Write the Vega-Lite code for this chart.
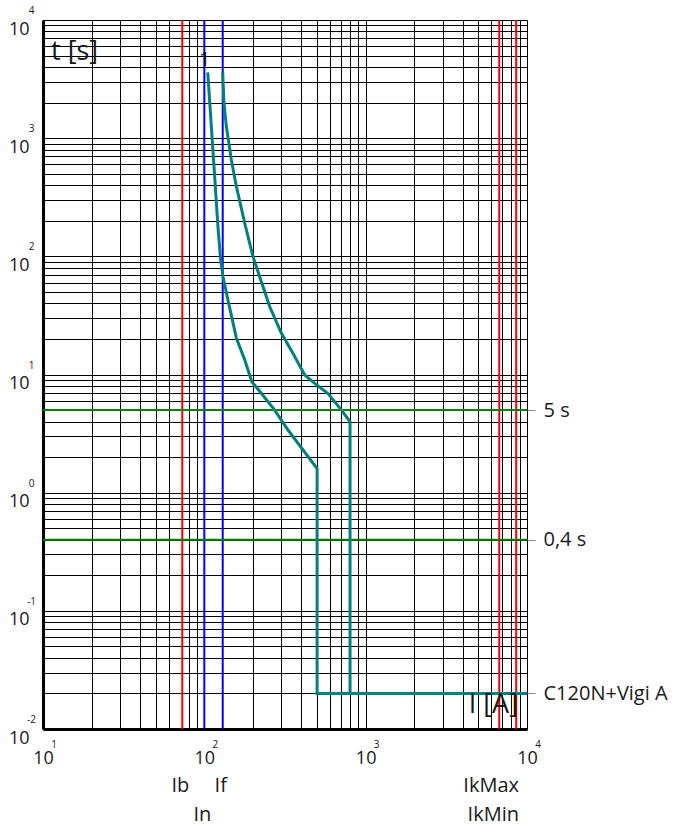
{
  "$schema": "https://vega.github.io/schema/vega-lite/v6.json",
  "width": 484,
  "height": 709,
  "autosize": {"type": "none"},
  "padding": {"left": 43, "top": 20, "right": 157, "bottom": 97},
  "background": "white",
  "config": {
    "view": {"stroke": null},
    "font": "Open Sans",
    "text": {"font": "Open Sans", "color": "#1a1a1a"},
    "axis": {"labelFont": "Open Sans", "labelColor": "#1a1a1a"}
  },
  "datasets": {
    "currents": [
      {"name": "Ib", "I": 73, "kind": "red"},
      {"name": "In", "I": 100, "kind": "blue"},
      {"name": "If", "I": 130, "kind": "blue"},
      {"name": "IkMin", "I": 6730, "kind": "red"},
      {"name": "IkMax", "I": 8570, "kind": "red"}
    ],
    "curves": [
      {"curve": "min", "o": 1, "I": 105, "t": 3600},
      {"curve": "min", "o": 2, "I": 110.5, "t": 1259},
      {"curve": "min", "o": 3, "I": 115.9, "t": 474},
      {"curve": "min", "o": 4, "I": 121.4, "t": 179},
      {"curve": "min", "o": 5, "I": 126.2, "t": 93.4},
      {"curve": "min", "o": 6, "I": 130.5, "t": 67.5},
      {"curve": "min", "o": 7, "I": 140, "t": 42.8},
      {"curve": "min", "o": 8, "I": 158, "t": 20.3},
      {"curve": "min", "o": 9, "I": 178, "t": 13.3},
      {"curve": "min", "o": 10, "I": 197, "t": 8.7},
      {"curve": "min", "o": 11, "I": 226, "t": 6.9},
      {"curve": "min", "o": 12, "I": 273, "t": 5.0},
      {"curve": "min", "o": 13, "I": 330, "t": 3.39},
      {"curve": "min", "o": 14, "I": 500, "t": 1.6},
      {"curve": "min", "o": 15, "I": 500, "t": 0.02},
      {"curve": "min", "o": 16, "I": 10000, "t": 0.02},
      {"curve": "max", "o": 1, "I": 130, "t": 3600},
      {"curve": "max", "o": 2, "I": 132.3, "t": 1990},
      {"curve": "max", "o": 3, "I": 136.9, "t": 1260},
      {"curve": "max", "o": 4, "I": 147, "t": 657},
      {"curve": "max", "o": 5, "I": 158, "t": 390},
      {"curve": "max", "o": 6, "I": 178, "t": 191},
      {"curve": "max", "o": 7, "I": 200, "t": 100},
      {"curve": "max", "o": 8, "I": 220, "t": 67.5},
      {"curve": "max", "o": 9, "I": 254, "t": 37.6},
      {"curve": "max", "o": 10, "I": 300, "t": 22.4},
      {"curve": "max", "o": 11, "I": 354, "t": 15.1},
      {"curve": "max", "o": 12, "I": 419, "t": 9.9},
      {"curve": "max", "o": 13, "I": 483, "t": 8.4},
      {"curve": "max", "o": 14, "I": 584, "t": 6.9},
      {"curve": "max", "o": 15, "I": 708, "t": 5.0},
      {"curve": "max", "o": 16, "I": 800, "t": 4.0},
      {"curve": "max", "o": 17, "I": 800, "t": 0.02}
    ],
    "limits": [
      {"t": 5, "label": "5 s"},
      {"t": 0.4, "label": "0,4 s"}
    ],
    "yexp": [
      {"e": "-2", "t": 0.01}, {"e": "-1", "t": 0.1}, {"e": "0", "t": 1},
      {"e": "1", "t": 10}, {"e": "2", "t": 100}, {"e": "3", "t": 1000}, {"e": "4", "t": 10000}
    ],
    "xexp": [
      {"e": "1", "I": 10}, {"e": "2", "I": 100}, {"e": "3", "I": 1000}, {"e": "4", "I": 10000}
    ]
  },
  "layer": [
    {
      "data": {"name": "currents"},
      "mark": {"type": "rule", "strokeWidth": 2},
      "encoding": {
        "x": {
          "field": "I", "type": "quantitative",
          "scale": {"type": "log", "domain": [10, 10000], "nice": false},
          "axis": {
            "values": [10, 20, 30, 40, 50, 60, 80, 90, 100, 200, 300, 400, 500, 600, 700, 800, 900, 1000, 2000, 3000, 4000, 5000, 6000, 7000, 8000, 9000, 10000],
            "grid": true, "gridColor": "#000", "gridWidth": 1, "gridOpacity": 1,
            "ticks": false, "tickSize": 0,
            "domain": true, "domainColor": "#000", "domainWidth": 3,
            "labelExpr": "abs(log(datum.value)/LN10 - round(log(datum.value)/LN10)) < 0.0001 ? '10' : ''",
            "labelFontSize": 18, "labelPadding": 20, "labelOverlap": false, "labelFlush": false, "labelBound": false,
            "title": null
          }
        },
        "color": {"field": "kind", "type": "nominal", "scale": {"domain": ["red", "blue"], "range": ["#ff0000", "#0000ff"]}, "legend": null}
      }
    },
    {
      "data": {"name": "limits"},
      "mark": {"type": "rule", "color": "#008000", "strokeWidth": 2},
      "encoding": {
        "y": {
          "field": "t", "type": "quantitative",
          "scale": {"type": "log", "domain": [0.01, 10000], "nice": false},
          "axis": {
            "orient": "right",
            "values": [0.02, 0.4, 5],
            "labelExpr": "datum.value == 5 ? '5 s' : datum.value == 0.4 ? '0,4 s' : 'C120N+Vigi A'",
            "grid": false, "domain": false,
            "ticks": true, "tickSize": 8, "tickWidth": 1,
            "labelPadding": 8, "labelFontSize": 20, "labelBaseline": "middle",
            "labelOverlap": false, "labelFlush": false, "labelBound": false,
            "title": null,
            "encode": {"ticks": {"update": {"stroke": {"signal": "datum.value < 0.1 ? '#008080' : '#008000'"}}}}
          }
        }
      }
    },
    {
      "data": {"name": "curves"},
      "mark": {"type": "line", "color": "#008080", "strokeWidth": 3, "strokeJoin": "miter"},
      "encoding": {
        "x": {"field": "I", "type": "quantitative", "scale": {"type": "log", "domain": [10, 10000], "nice": false}, "axis": null},
        "y": {
          "field": "t", "type": "quantitative",
          "scale": {"type": "log", "domain": [0.01, 10000], "nice": false},
          "axis": {
            "values": [0.01, 0.02, 0.03, 0.04, 0.05, 0.06, 0.07, 0.08, 0.09, 0.1, 0.2, 0.3, 0.4, 0.5, 0.6, 0.7, 0.8, 0.9, 1, 2, 3, 4, 5, 6, 7, 8, 9, 10, 20, 30, 40, 50, 60, 70, 80, 90, 100, 200, 300, 400, 500, 600, 700, 800, 900, 1000, 2000, 3000, 4000, 5000, 6000, 7000, 8000, 9000, 10000],
            "grid": true, "gridColor": "#000", "gridWidth": 1, "gridOpacity": 1,
            "ticks": false, "tickSize": 0,
            "domain": true, "domainColor": "#000", "domainWidth": 3,
            "labelExpr": "abs(log(datum.value)/LN10 - round(log(datum.value)/LN10)) < 0.0001 ? '10' : ''",
            "labelFontSize": 18, "labelPadding": 14, "labelBaseline": "top",
            "labelOverlap": false, "labelFlush": false, "labelBound": false,
            "title": null
          }
        },
        "detail": {"field": "curve"},
        "order": {"field": "o", "type": "quantitative"}
      }
    },
    {
      "data": {"values": [{"label": "1", "I": 105, "t": 3600}]},
      "mark": {"type": "text", "fontSize": 20, "align": "center", "baseline": "alphabetic", "dx": -3, "dy": -6},
      "encoding": {
        "x": {"field": "I", "type": "quantitative", "scale": {"type": "log", "domain": [10, 10000], "nice": false}, "axis": null},
        "y": {"field": "t", "type": "quantitative", "scale": {"type": "log", "domain": [0.01, 10000], "nice": false}, "axis": null},
        "text": {"field": "label"}
      }
    },
    {
      "data": {"values": [{"label": "t [s]"}]},
      "mark": {"type": "text", "fontSize": 27, "align": "left", "baseline": "alphabetic", "dx": 8, "dy": 40},
      "encoding": {
        "x": {"datum": 10, "type": "quantitative", "scale": {"type": "log", "domain": [10, 10000], "nice": false}, "axis": null},
        "y": {"datum": 10000, "type": "quantitative", "scale": {"type": "log", "domain": [0.01, 10000], "nice": false}, "axis": null},
        "text": {"field": "label"}
      }
    },
    {
      "data": {"values": [{"label": "I [A]"}]},
      "mark": {"type": "text", "fontSize": 27, "align": "right", "baseline": "alphabetic", "dx": -9, "dy": -16},
      "encoding": {
        "x": {"datum": 10000, "type": "quantitative", "scale": {"type": "log", "domain": [10, 10000], "nice": false}, "axis": null},
        "y": {"datum": 0.01, "type": "quantitative", "scale": {"type": "log", "domain": [0.01, 10000], "nice": false}, "axis": null},
        "text": {"field": "label"}
      }
    },
    {
      "data": {"name": "yexp"},
      "mark": {"type": "text", "fontSize": 10, "align": "center", "baseline": "middle", "dx": -11.5, "dy": -9},
      "encoding": {
        "x": {"datum": 10, "type": "quantitative", "scale": {"type": "log", "domain": [10, 10000], "nice": false}, "axis": null},
        "y": {"field": "t", "type": "quantitative", "scale": {"type": "log", "domain": [0.01, 10000], "nice": false}, "axis": null},
        "text": {"field": "e"}
      }
    },
    {
      "data": {"name": "xexp"},
      "mark": {"type": "text", "fontSize": 10, "align": "center", "baseline": "middle", "dx": 11, "dy": 15.5},
      "encoding": {
        "x": {"field": "I", "type": "quantitative", "scale": {"type": "log", "domain": [10, 10000], "nice": false}, "axis": null},
        "y": {"datum": 0.01, "type": "quantitative", "scale": {"type": "log", "domain": [0.01, 10000], "nice": false}, "axis": null},
        "text": {"field": "e"}
      }
    },
    {
      "data": {"name": "currents"},
      "transform": [{"filter": "datum.name == 'Ib' || datum.name == 'If'"}],
      "mark": {"type": "text", "fontSize": 20, "align": "center", "baseline": "middle", "dx": -2, "dy": 57},
      "encoding": {
        "x": {"field": "I", "type": "quantitative", "scale": {"type": "log", "domain": [10, 10000], "nice": false}, "axis": null},
        "y": {"datum": 0.01, "type": "quantitative", "scale": {"type": "log", "domain": [0.01, 10000], "nice": false}, "axis": null},
        "text": {"field": "name"}
      }
    },
    {
      "data": {"name": "currents"},
      "transform": [{"filter": "datum.name == 'In'"}],
      "mark": {"type": "text", "fontSize": 20, "align": "center", "baseline": "middle", "dx": -2, "dy": 86},
      "encoding": {
        "x": {"field": "I", "type": "quantitative", "scale": {"type": "log", "domain": [10, 10000], "nice": false}, "axis": null},
        "y": {"datum": 0.01, "type": "quantitative", "scale": {"type": "log", "domain": [0.01, 10000], "nice": false}, "axis": null},
        "text": {"field": "name"}
      }
    },
    {
      "data": {"name": "currents"},
      "transform": [{"filter": "datum.name == 'IkMax'"}],
      "mark": {"type": "text", "fontSize": 20, "align": "right", "baseline": "middle", "dx": -8, "dy": 57},
      "encoding": {
        "x": {"datum": 10000, "type": "quantitative", "scale": {"type": "log", "domain": [10, 10000], "nice": false}, "axis": null},
        "y": {"datum": 0.01, "type": "quantitative", "scale": {"type": "log", "domain": [0.01, 10000], "nice": false}, "axis": null},
        "text": {"field": "name"}
      }
    },
    {
      "data": {"name": "currents"},
      "transform": [{"filter": "datum.name == 'IkMin'"}],
      "mark": {"type": "text", "fontSize": 20, "align": "right", "baseline": "middle", "dx": -8, "dy": 86},
      "encoding": {
        "x": {"datum": 10000, "type": "quantitative", "scale": {"type": "log", "domain": [10, 10000], "nice": false}, "axis": null},
        "y": {"datum": 0.01, "type": "quantitative", "scale": {"type": "log", "domain": [0.01, 10000], "nice": false}, "axis": null},
        "text": {"field": "name"}
      }
    }
  ],
  "resolve": {"axis": {"x": "independent", "y": "independent"}}
}
